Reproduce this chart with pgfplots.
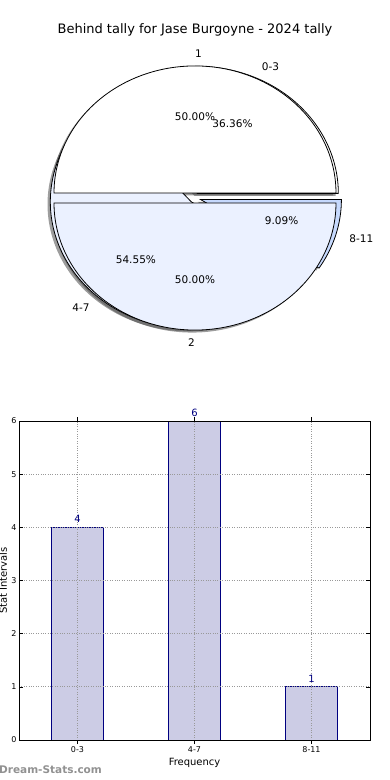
\documentclass[border=0pt]{standalone}
\usepackage{fontspec}
\setmainfont{DejaVu Sans}
\usepackage{pgfplots}
\pgfplotsset{compat=1.18}
\definecolor{pieA}{RGB}{255,255,255}
\definecolor{pieB}{RGB}{235,241,255}
\definecolor{pieC}{RGB}{198,217,253}
\definecolor{barfill}{RGB}{204,204,229}
\definecolor{barnavy}{RGB}{0,0,128}
\definecolor{wmark}{RGB}{145,145,145}
% pie geometry (picture units = px)
\def\pcx{195}\def\pcy{582}\def\prx{141}\def\pry{127}\def\pexp{0.04}
\newcommand\pieslice[5]{% start, end, style, dx, dy
  \pgfmathsetmacro\wmid{(#1+#2)/2}%
  \pgfmathsetmacro\wcx{\pcx+\pexp*\prx*cos(\wmid)+#4}%
  \pgfmathsetmacro\wcy{\pcy+\pexp*\pry*sin(\wmid)+#5}%
  \edef\wtmp{\noexpand\addplot[#3,domain=#1:#2,samples=120,variable=\noexpand\t]
    ({\wcx+\prx*cos(\noexpand\t)},{\wcy+\pry*sin(\noexpand\t)}) -- (axis cs:\wcx,\wcy) -- cycle;}%
  \wtmp}
\newcommand\pielabel[4]{% start, end, label, pct
  \pgfmathsetmacro\wmid{(#1+#2)/2}%
  \pgfmathsetmacro\wcx{\pcx+\pexp*\prx*cos(\wmid)}%
  \pgfmathsetmacro\wcy{\pcy+\pexp*\pry*sin(\wmid)}%
  \pgfmathsetmacro\lx{\wcx+1.1*\prx*cos(\wmid)}%
  \pgfmathsetmacro\ly{\wcy+1.1*\pry*sin(\wmid)}%
  \pgfmathsetmacro\px{\wcx+0.6*\prx*cos(\wmid)}%
  \pgfmathsetmacro\py{\wcy+0.6*\pry*sin(\wmid)}%
  \pgfmathparse{(\wmid<=90 || \wmid>270) ? 1 : 0}%
  \ifdim\pgfmathresult pt>0.5pt \def\lanc{west}\else\def\lanc{east}\fi
  \edef\wtmp{\noexpand\node[anchor=\lanc,inner sep=0pt,font=\noexpand\plabfont] at (axis cs:\lx,\ly) {#3};
    \noexpand\node[inner sep=0pt,font=\noexpand\plabfont] at (axis cs:\px,\py) {#4};}%
  \wtmp}
\newcommand\plabfont{\fontsize{10.5bp}{12bp}\selectfont}
\begin{document}
\begin{tikzpicture}
\path[use as bounding box] (0bp,0bp) rectangle (390bp,780bp);
% ---------- pie charts ----------
\begin{axis}[at={(0bp,0bp)}, anchor=south west, scale only axis, width=390bp, height=780bp,
  xmin=0, xmax=390, ymin=0, ymax=780, hide axis, clip=false]
% pie 2 data: 0-3 = 4, 4-7 = 6, 8-11 = 1 (total 11); pie 1 data: 1 = 1, 2 = 1
\def\sA{0}\def\sB{130.909}\def\sC{327.273}\def\sD{360}
% shadows
\pieslice{\sA}{\sB}{fill=black!70,opacity=0.55,draw=none}{-2.8}{-2.5}
\pieslice{\sB}{\sC}{fill=black!70,opacity=0.55,draw=none}{-2.8}{-2.5}
\pieslice{\sC}{\sD}{fill=black!70,opacity=0.55,draw=none}{-2.8}{-2.5}
\pieslice{0}{180}{fill=black!70,opacity=0.55,draw=none}{-2.8}{-2.5}
\pieslice{180}{360}{fill=black!70,opacity=0.55,draw=none}{-2.8}{-2.5}
% pie 2 wedges
\pieslice{\sA}{\sB}{fill=pieA,draw=black,line width=0.8bp}{0}{0}
\pieslice{\sB}{\sC}{fill=pieB,draw=black,line width=0.8bp}{0}{0}
\pieslice{\sC}{\sD}{fill=pieC,draw=black,line width=0.8bp}{0}{0}
% pie 1 wedges
\pieslice{0}{180}{fill=pieA,draw=black,line width=0.8bp}{0}{0}
\pieslice{180}{360}{fill=pieB,draw=black,line width=0.8bp}{0}{0}
% labels
\pielabel{\sA}{\sB}{0-3}{36.36\%}
\pielabel{\sB}{\sC}{4-7}{54.55\%}
\pielabel{\sC}{\sD}{8-11}{9.09\%}
\pielabel{0}{180}{1}{50.00\%}
\pielabel{180}{360}{2}{50.00\%}
\node[font=\fontsize{13bp}{15bp}\selectfont] at (axis cs:195,750) {Behind tally for Jase Burgoyne - 2024 tally};
\end{axis}
% ---------- bar chart ----------
\begin{axis}[at={(19bp,40bp)}, anchor=south west, scale only axis, width=351bp, height=319bp,
  xmin=-0.5, xmax=2.5, ymin=0, ymax=6,
  xtick={0,1,2}, xticklabels={0-3,4-7,8-11}, ytick={0,1,2,3,4,5,6},
  tick align=inside, tick pos=both, major tick length=4bp,
  major tick style={black, line width=0.6bp},
  grid=major, grid style={black!40, dotted, line width=0.7bp},
  axis line style={line width=0.9bp}, axis on top,
  ticklabel style={font=\fontsize{8bp}{9bp}\selectfont},
  xticklabel style={yshift=1bp}, yticklabel style={xshift=1bp},
  /pgf/number format/assume math mode=true,
  xlabel={Frequency}, ylabel={Stat Intervals},
  label style={font=\fontsize{10.5bp}{12bp}\selectfont},
  every axis x label/.style={at={(axis description cs:0.5,-0.071)},anchor=center},
  every axis y label/.style={at={(axis description cs:-0.045,0.5)},rotate=90,anchor=center},
  ybar, bar width=0.44,
  nodes near coords,
  nodes near coords style={font=\fontsize{10bp}{11bp}\selectfont, text=barnavy, anchor=south, inner sep=0pt, yshift=4bp},
]
\addplot[fill=barfill, draw=barnavy, line width=0.9bp] coordinates {(0,4) (1,6) (2,1)};
\end{axis}
\node[anchor=west, inner sep=0pt, text=wmark, font=\fontsize{10.5bp}{12bp}\selectfont\bfseries] at (-1bp,10bp) {Dream-Stats.com};
\end{tikzpicture}
\end{document}
